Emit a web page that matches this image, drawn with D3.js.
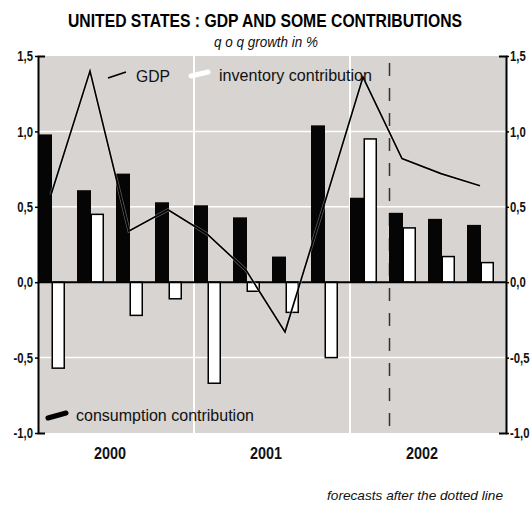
<!DOCTYPE html>
<html><head><meta charset="utf-8">
<script src="https://cdn.jsdelivr.net/npm/d3@7"></script>
<style>
html,body{margin:0;padding:0;background:#fff;}
svg{display:block;font-family:"Liberation Sans Narrow","Liberation Sans",Arial,sans-serif;}
</style></head>
<body>
<svg id="c" width="532" height="506"></svg>
<script>
// ---- data ----
const quarters = ["2000Q1","2000Q2","2000Q3","2000Q4","2001Q1","2001Q2","2001Q3","2001Q4","2002Q1","2002Q2","2002Q3","2002Q4"];
const years = ["2000","2001","2002"];
const consumption = [0.98,0.61,0.72,0.53,0.51,0.43,0.17,1.04,0.56,0.46,0.42,0.38];
const inventory = [-0.57,0.45,-0.22,-0.11,-0.67,-0.06,-0.20,-0.50,0.95,0.36,0.17,0.13];
const gdp = [0.58,1.40,0.34,0.48,0.32,0.08,-0.33,0.51,1.36,0.82,0.72,0.64];
const yTicks = [1.5,1.0,0.5,0.0,-0.5,-1.0];
const gridValues = [1.0,0.5,-0.5];
const forecastStart = "2002Q2";
const seriesNames = ["consumption","inventory"];

const title = "UNITED STATES : GDP AND SOME CONTRIBUTIONS";
const subtitle = "q o q growth in %";
const footer = "forecasts after the dotted line";

// ---- layout ----
const svg = d3.select("#c");
const L = 38, R = 506, T = 56, B = 433;
const x = d3.scaleBand().domain(quarters).range([L, R]).paddingInner(0).paddingOuter(0);
const x1 = d3.scaleBand().domain(seriesNames).range([0, 27]);
const y = d3.scaleLinear().domain([-1, 1.5]).range([B, T]);
const fmt = d3.formatLocale({decimal:",",thousands:".",grouping:[3],currency:["",""],minus:"-"}).format(".1f");

// background
svg.append("rect").attr("x", L).attr("y", T).attr("width", R - L).attr("height", B - T).attr("fill", "#d7d4d1");

// horizontal grid
svg.selectAll("line.hg").data(gridValues).join("line")
  .attr("x1", L).attr("x2", R).attr("y1", d => y(d)).attr("y2", d => y(d))
  .attr("stroke", "#fff").attr("stroke-width", 1.5);

// vertical year separators
const yearStarts = years.slice(1).map(yr => x(yr + "Q1"));
svg.selectAll("line.vg").data(yearStarts).join("line")
  .attr("x1", d => d).attr("x2", d => d).attr("y1", T).attr("y2", B)
  .attr("stroke", "#fff").attr("stroke-width", 2);

// forecast dashed line
const fx = x(forecastStart) + 0.5;
svg.append("line").attr("x1", fx).attr("x2", fx).attr("y1", T + 7).attr("y2", B)
  .attr("stroke", "#333").attr("stroke-width", 1.5).attr("stroke-dasharray", "13,12");

// consumption bars (black)
svg.selectAll("rect.cons").data(consumption).join("rect")
  .attr("x", (d, i) => x(quarters[i]) + x1("consumption"))
  .attr("width", x1.bandwidth() + 0.5)
  .attr("y", d => y(Math.max(0, d)))
  .attr("height", d => Math.abs(y(d) - y(0)))
  .attr("fill", "#050505");

// inventory bars (white with outline)
svg.selectAll("rect.inv").data(inventory).join("rect")
  .attr("x", (d, i) => x(quarters[i]) + x1("inventory") + 0.75)
  .attr("width", x1.bandwidth() - 1.5)
  .attr("y", d => y(Math.max(0, d)))
  .attr("height", d => Math.abs(y(d) - y(0)))
  .attr("fill", "#fff").attr("stroke", "#000").attr("stroke-width", 1.5);

// zero line
svg.append("line").attr("x1", L).attr("x2", R).attr("y1", y(0)).attr("y2", y(0))
  .attr("stroke", "#000").attr("stroke-width", 2);

// GDP line
const line = d3.line().x((d, i) => x(quarters[i]) + x1("inventory") - 0.5).y(d => y(d));
svg.append("path").datum(gdp).attr("d", line).attr("fill", "none")
  .attr("stroke", "#fff").attr("stroke-width", 3.2).attr("stroke-opacity", 0.35);
svg.append("path").datum(gdp).attr("d", line).attr("fill", "none")
  .attr("stroke", "#000").attr("stroke-width", 1.7).attr("stroke-linejoin", "miter");

// axes
const axL = d3.axisLeft(y).tickValues(yTicks).tickFormat(fmt).tickSize(3).tickSizeOuter(-7);
const axR = d3.axisRight(y).tickValues(yTicks).tickFormat(fmt).tickSize(3).tickSizeOuter(-7);
const gL = svg.append("g").attr("transform", `translate(${L},0)`).call(axL);
const gR = svg.append("g").attr("transform", `translate(${R},0)`).call(axR);
[[gL, -5], [gR, 4]].forEach(([g, off]) => {
  g.select(".domain").attr("stroke", "#000").attr("stroke-width", 2);
  g.selectAll(".tick line").attr("stroke", "#000").attr("stroke-width", 1.5);
  g.selectAll(".tick text").attr("font-size", 14.5).attr("font-weight", "bold").attr("fill", "#111")
    .attr("font-family", "'Liberation Sans Narrow','Liberation Sans',Arial,sans-serif")
    .attr("x", 0).attr("transform", `translate(${off},0) scale(0.78,1)`);
});

// year labels
svg.selectAll("text.yr").data(years).join("text")
  .attr("x", yr => (x(yr + "Q1") + x(yr + "Q4") + 27) / 2)
  .attr("y", 459).attr("text-anchor", "middle")
  .attr("font-size", 16).attr("font-weight", "bold").attr("fill", "#111")
  .attr("textLength", 32).attr("lengthAdjust", "spacingAndGlyphs")
  .text(d => d);

// title & subtitle
svg.append("text").attr("x", 68).attr("y", 27).attr("font-size", 18).attr("font-weight", "bold")
  .attr("textLength", 394).attr("lengthAdjust", "spacingAndGlyphs").attr("fill", "#000").text(title);
svg.append("text").attr("x", 214).attr("y", 47).attr("font-size", 14).attr("font-style", "italic")
  .attr("textLength", 104).attr("lengthAdjust", "spacingAndGlyphs").attr("fill", "#111").text(subtitle);

// legend
svg.append("line").attr("x1", 108).attr("y1", 78).attr("x2", 126).attr("y2", 72)
  .attr("stroke", "#000").attr("stroke-width", 1.8);
svg.append("text").attr("x", 136).attr("y", 82).attr("font-size", 17)
  .attr("textLength", 34).attr("lengthAdjust", "spacingAndGlyphs").attr("fill", "#111").text("GDP");
svg.append("line").attr("x1", 191).attr("y1", 76).attr("x2", 208).attr("y2", 72)
  .attr("stroke", "#fff").attr("stroke-width", 5).attr("stroke-linecap", "round");
svg.append("text").attr("x", 219).attr("y", 81).attr("font-size", 17)
  .attr("textLength", 153).attr("lengthAdjust", "spacingAndGlyphs").attr("fill", "#111").text("inventory contribution");
svg.append("line").attr("x1", 48).attr("y1", 418).attr("x2", 66).attr("y2", 413)
  .attr("stroke", "#000").attr("stroke-width", 5).attr("stroke-linecap", "round");
svg.append("text").attr("x", 76).attr("y", 421).attr("font-size", 17)
  .attr("textLength", 178).attr("lengthAdjust", "spacingAndGlyphs").attr("fill", "#111").text("consumption contribution");

// footer
svg.append("text").attr("x", 503).attr("y", 500).attr("text-anchor", "end").attr("font-size", 13)
  .attr("font-style", "italic").attr("textLength", 176).attr("lengthAdjust", "spacingAndGlyphs")
  .attr("fill", "#111").text(footer);
</script>
</body></html>
